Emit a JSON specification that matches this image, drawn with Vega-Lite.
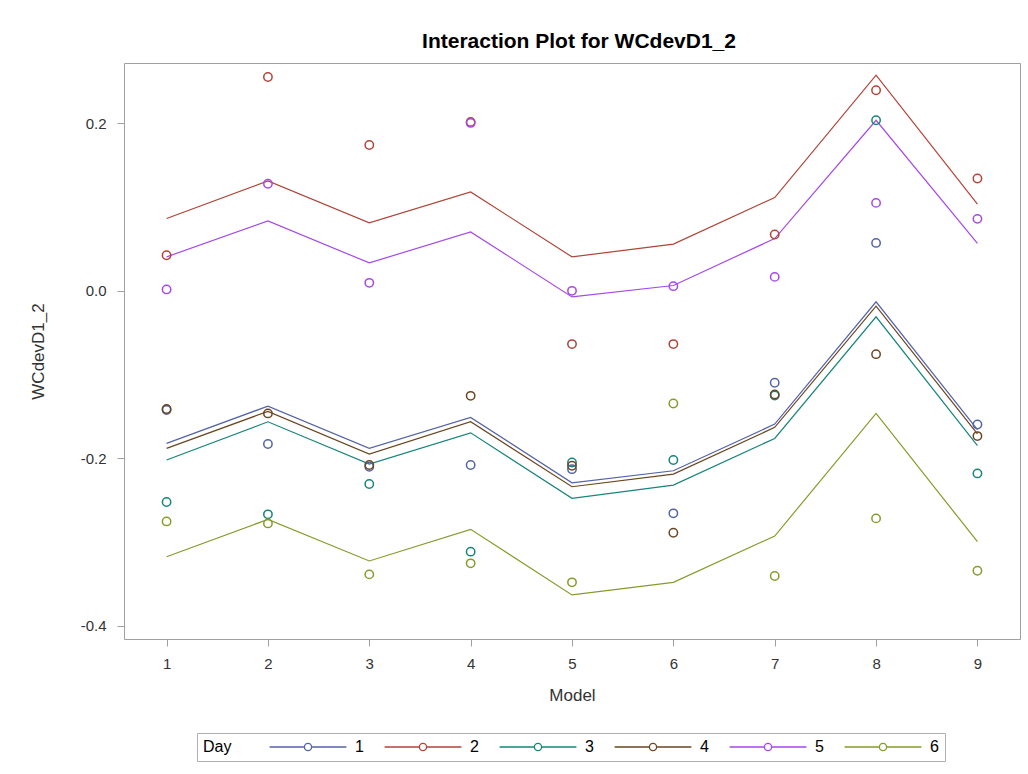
{
  "$schema": "https://vega.github.io/schema/vega-lite/v6.json",
  "width": 896,
  "height": 576,
  "autosize": {"type": "none"},
  "padding": {"left": 124, "top": 63, "right": 8, "bottom": 135},
  "background": "white",
  "title": {
    "text": "Interaction Plot for WCdevD1_2",
    "font": "Liberation Sans",
    "fontSize": 21,
    "fontWeight": "bold",
    "color": "#000000",
    "anchor": "middle",
    "dx": 7,
    "offset": 11
  },
  "config": {
    "view": {"stroke": "#a0a0a0", "strokeWidth": 1},
    "axis": {
      "labelFont": "Liberation Sans",
      "titleFont": "Liberation Sans",
      "labelColor": "#333333",
      "titleColor": "#333333",
      "labelFontSize": 15,
      "titleFontSize": 17,
      "titleFontWeight": "normal",
      "tickColor": "#a0a0a0",
      "tickSize": 7,
      "domain": false,
      "grid": false
    }
  },
  "datasets": {
    "points": [
      {"model": 1, "day": "1", "y": -0.1424}, {"model": 1, "day": "2", "y": 0.0426}, {"model": 1, "day": "3", "y": -0.2523}, {"model": 1, "day": "4", "y": -0.1412}, {"model": 1, "day": "5", "y": 0.0017}, {"model": 1, "day": "6", "y": -0.2754},
      {"model": 2, "day": "1", "y": -0.183}, {"model": 2, "day": "2", "y": 0.2555}, {"model": 2, "day": "3", "y": -0.267}, {"model": 2, "day": "4", "y": -0.1464}, {"model": 2, "day": "5", "y": 0.128}, {"model": 2, "day": "6", "y": -0.2778},
      {"model": 3, "day": "1", "y": -0.2101}, {"model": 3, "day": "2", "y": 0.1743}, {"model": 3, "day": "3", "y": -0.2308}, {"model": 3, "day": "4", "y": -0.2081}, {"model": 3, "day": "5", "y": 0.0096}, {"model": 3, "day": "6", "y": -0.3387},
      {"model": 4, "day": "1", "y": -0.2081}, {"model": 4, "day": "2", "y": 0.2018}, {"model": 4, "day": "3", "y": -0.3116}, {"model": 4, "day": "4", "y": -0.1254}, {"model": 4, "day": "5", "y": 0.2006}, {"model": 4, "day": "6", "y": -0.3255},
      {"model": 5, "day": "1", "y": -0.213}, {"model": 5, "day": "2", "y": -0.0636}, {"model": 5, "day": "3", "y": -0.205}, {"model": 5, "day": "4", "y": -0.209}, {"model": 5, "day": "5", "y": 0.0}, {"model": 5, "day": "6", "y": -0.3482},
      {"model": 6, "day": "1", "y": -0.2658}, {"model": 6, "day": "2", "y": -0.0636}, {"model": 6, "day": "3", "y": -0.2021}, {"model": 6, "day": "4", "y": -0.289}, {"model": 6, "day": "5", "y": 0.0056}, {"model": 6, "day": "6", "y": -0.1345},
      {"model": 7, "day": "1", "y": -0.1098}, {"model": 7, "day": "2", "y": 0.0673}, {"model": 7, "day": "3", "y": -0.125}, {"model": 7, "day": "4", "y": -0.1237}, {"model": 7, "day": "5", "y": 0.0167}, {"model": 7, "day": "6", "y": -0.3407},
      {"model": 8, "day": "1", "y": 0.0573}, {"model": 8, "day": "2", "y": 0.2396}, {"model": 8, "day": "3", "y": 0.2038}, {"model": 8, "day": "4", "y": -0.0756}, {"model": 8, "day": "5", "y": 0.1051}, {"model": 8, "day": "6", "y": -0.2718},
      {"model": 9, "day": "1", "y": -0.1596}, {"model": 9, "day": "2", "y": 0.1342}, {"model": 9, "day": "3", "y": -0.2181}, {"model": 9, "day": "4", "y": -0.1735}, {"model": 9, "day": "5", "y": 0.086}, {"model": 9, "day": "6", "y": -0.3343}
    ],
    "fits": [
      {"model": 1, "day": "1", "fit": -0.1822}, {"model": 2, "day": "1", "fit": -0.1377}, {"model": 3, "day": "1", "fit": -0.1882}, {"model": 4, "day": "1", "fit": -0.1512}, {"model": 5, "day": "1", "fit": -0.2293}, {"model": 6, "day": "1", "fit": -0.2149}, {"model": 7, "day": "1", "fit": -0.1592}, {"model": 8, "day": "1", "fit": -0.0131}, {"model": 9, "day": "1", "fit": -0.1657},
      {"model": 1, "day": "2", "fit": 0.0864}, {"model": 2, "day": "2", "fit": 0.1313}, {"model": 3, "day": "2", "fit": 0.0812}, {"model": 4, "day": "2", "fit": 0.1182}, {"model": 5, "day": "2", "fit": 0.0406}, {"model": 6, "day": "2", "fit": 0.0558}, {"model": 7, "day": "2", "fit": 0.1115}, {"model": 8, "day": "2", "fit": 0.2576}, {"model": 9, "day": "2", "fit": 0.1035},
      {"model": 1, "day": "3", "fit": -0.2021}, {"model": 2, "day": "3", "fit": -0.1564}, {"model": 3, "day": "3", "fit": -0.2069}, {"model": 4, "day": "3", "fit": -0.1696}, {"model": 5, "day": "3", "fit": -0.2479}, {"model": 6, "day": "3", "fit": -0.232}, {"model": 7, "day": "3", "fit": -0.1763}, {"model": 8, "day": "3", "fit": -0.031}, {"model": 9, "day": "3", "fit": -0.185},
      {"model": 1, "day": "4", "fit": -0.1882}, {"model": 2, "day": "4", "fit": -0.144}, {"model": 3, "day": "4", "fit": -0.195}, {"model": 4, "day": "4", "fit": -0.1564}, {"model": 5, "day": "4", "fit": -0.234}, {"model": 6, "day": "4", "fit": -0.2189}, {"model": 7, "day": "4", "fit": -0.1631}, {"model": 8, "day": "4", "fit": -0.0183}, {"model": 9, "day": "4", "fit": -0.171},
      {"model": 1, "day": "5", "fit": 0.0406}, {"model": 2, "day": "5", "fit": 0.0836}, {"model": 3, "day": "5", "fit": 0.0334}, {"model": 4, "day": "5", "fit": 0.0704}, {"model": 5, "day": "5", "fit": -0.0072}, {"model": 6, "day": "5", "fit": 0.0064}, {"model": 7, "day": "5", "fit": 0.0625}, {"model": 8, "day": "5", "fit": 0.2038}, {"model": 9, "day": "5", "fit": 0.0566},
      {"model": 1, "day": "6", "fit": -0.3176}, {"model": 2, "day": "6", "fit": -0.273}, {"model": 3, "day": "6", "fit": -0.3227}, {"model": 4, "day": "6", "fit": -0.2849}, {"model": 5, "day": "6", "fit": -0.3633}, {"model": 6, "day": "6", "fit": -0.3482}, {"model": 7, "day": "6", "fit": -0.2929}, {"model": 8, "day": "6", "fit": -0.1464}, {"model": 9, "day": "6", "fit": -0.2997}
    ]
  },
  "layer": [
    {
      "data": {"name": "fits"},
      "mark": {"type": "line", "strokeWidth": 1.2, "clip": true},
      "encoding": {
        "x": {
          "field": "model", "type": "quantitative",
          "scale": {"domain": [0.58, 9.42], "nice": false, "zero": false},
          "axis": {"title": "Model", "values": [1, 2, 3, 4, 5, 6, 7, 8, 9], "format": "d", "labelPadding": 10, "titlePadding": 16}
        },
        "y": {
          "field": "fit", "type": "quantitative",
          "scale": {"domain": [-0.4159, 0.2722], "nice": false, "zero": false},
          "axis": {
            "title": "WCdevD1_2",
            "values": [-0.4, -0.2, 0, 0.2],
            "labelExpr": "datum.value < 0 ? '-' + format(-datum.value, '.1f') : format(datum.value, '.1f')",
            "labelPadding": 11,
            "titlePadding": 33
          }
        },
        "color": {
          "field": "day", "type": "nominal",
          "scale": {"domain": ["1", "2", "3", "4", "5", "6"], "range": ["#5363A6", "#B04438", "#17857A", "#6A4621", "#A648E8", "#889A2A"]},
          "legend": {
            "orient": "none", "legendX": 73, "legendY": 670, "direction": "horizontal",
            "title": "Day", "titleOrient": "left", "titleFont": "Liberation Sans", "titleFontSize": 16, "titleFontWeight": "normal", "titleColor": "#000000", "titlePadding": 68,
            "labelFont": "Liberation Sans", "labelFontSize": 16, "labelColor": "#000000", "labelOffset": 39,
            "symbolType": "M-9.6,0H-0.9M0.9,0H9.6M-0.9,0A0.9,0.9 0 1,1 0.9,0A0.9,0.9 0 1,1 -0.9,0",
            "symbolSize": 64, "symbolStrokeWidth": 1.3, "symbolFillColor": "white",
            "columnPadding": 18, "strokeColor": "#b0b0b0", "padding": 6
          }
        },
        "detail": {"field": "day"}
      }
    },
    {
      "data": {"name": "points"},
      "mark": {"type": "point", "shape": "circle", "filled": false, "size": 70, "strokeWidth": 1.5, "opacity": 1},
      "encoding": {
        "x": {"field": "model", "type": "quantitative"},
        "y": {"field": "y", "type": "quantitative"},
        "color": {"field": "day", "type": "nominal"}
      }
    }
  ]
}
